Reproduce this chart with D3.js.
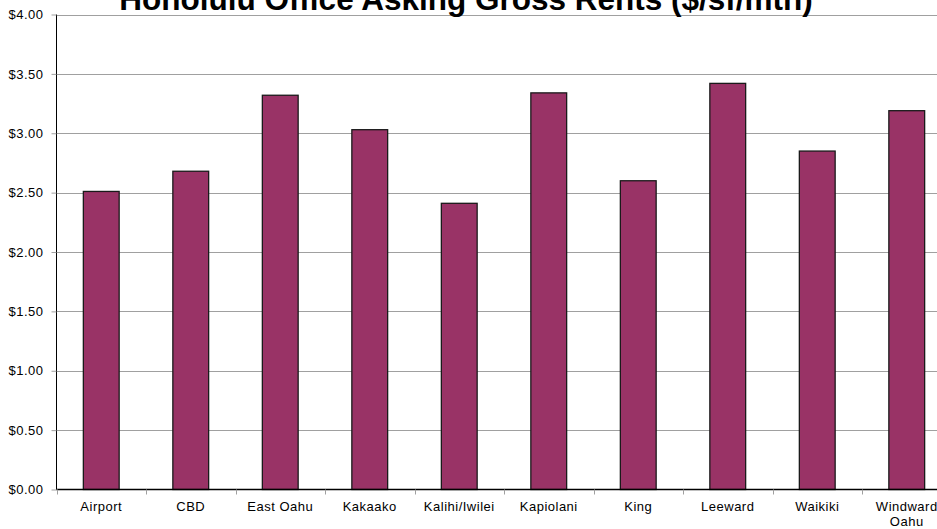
<!DOCTYPE html>
<html lang="en">
<head>
<meta charset="utf-8" />
<title>Honolulu Office Asking Gross Rents</title>
<script src="https://d3js.org/d3.v7.min.js"></script>
<style>
  body { margin: 0; background: #fff; }
  svg { display: block; font-family: "Liberation Sans", Arial, sans-serif; }
</style>
</head>
<body>
<div id="chart"></div>
<script>
var submarkets = ["Airport", "CBD", "East Oahu", "Kakaako", "Kalihi/Iwilei",
                  "Kapiolani", "King", "Leeward", "Waikiki", "Windward Oahu"];
var rents = [2.51, 2.68, 3.32, 3.03, 2.41, 3.34, 2.60, 3.42, 2.85, 3.19];
var yTicks = [0, 0.5, 1, 1.5, 2, 2.5, 3, 3.5, 4];

var width = 937, height = 529;
var plotLeft = 56.5, plotTop = 14.5, plotBottom = 489.5;
var plotRight = plotLeft + 895;   // plot runs past the window edge

var svg = d3.select("#chart").append("svg")
  .attr("width", width)
  .attr("height", height);

var x = d3.scaleBand()
  .domain(submarkets)
  .range([plotLeft, plotRight])
  .padding(0);

var y = d3.scaleLinear()
  .domain([0, 4])
  .range([plotBottom, plotTop]);

// gridlines
svg.append("g")
  .selectAll("line")
  .data(yTicks.filter(function(d) { return d > 0; }))
  .join("line")
  .attr("x1", plotLeft)
  .attr("x2", plotRight)
  .attr("y1", function(d) { return Math.round(y(d)) + 0.5; })
  .attr("y2", function(d) { return Math.round(y(d)) + 0.5; })
  .attr("stroke", "#a0a0a0")
  .attr("stroke-width", 1);

// y axis
var yAxis = d3.axisLeft(y)
  .tickValues(yTicks)
  .tickSize(5)
  .tickPadding(8)
  .tickFormat(function(d) { return "$" + d3.format(".2f")(d); });

var gy = svg.append("g")
  .attr("transform", "translate(" + plotLeft + ",0)")
  .call(yAxis);
gy.select(".domain").attr("stroke", "#000")
  .attr("d", "M0," + plotTop + "V" + plotBottom);
gy.selectAll(".tick line").attr("stroke", "#a0a0a0");
gy.selectAll(".tick text")
  .attr("font-size", 13)
  .attr("letter-spacing", 0.5)
  .attr("font-family", "Liberation Sans, Arial, sans-serif")
  .attr("fill", "#000");

// bars
var barW = x.bandwidth() * 0.4;
svg.append("g")
  .selectAll("rect")
  .data(submarkets)
  .join("rect")
  .attr("x", function(d) { return x(d) + (x.bandwidth() - barW) / 2; })
  .attr("y", function(d, i) { return y(rents[i]); })
  .attr("width", barW)
  .attr("height", function(d, i) { return plotBottom - y(rents[i]); })
  .attr("fill", "#993366")
  .attr("stroke", "#1a1a1a")
  .attr("stroke-width", 1.3);

// x axis
var gx = svg.append("g")
  .attr("transform", "translate(0," + plotBottom + ")");
gx.append("line")
  .attr("x1", plotLeft).attr("x2", plotRight)
  .attr("y1", 0).attr("y2", 0)
  .attr("stroke", "#000")
  .attr("stroke-width", 1.5);
gx.selectAll(".xtick")
  .data(submarkets)
  .join("line")
  .attr("class", "xtick")
  .attr("x1", function(d) { return Math.round(x(d)) + 0.5; })
  .attr("x2", function(d) { return Math.round(x(d)) + 0.5; })
  .attr("y1", 0).attr("y2", 5)
  .attr("stroke", "#a0a0a0");

var labels = gx.selectAll(".xlabel")
  .data(submarkets)
  .join("text")
  .attr("class", "xlabel")
  .attr("text-anchor", "middle")
  .attr("font-size", 13)
  .attr("letter-spacing", 0.5)
  .attr("fill", "#000")
  .attr("transform", function(d) { return "translate(" + (x(d) + x.bandwidth() / 2) + ",0)"; });

labels.each(function(d) {
  var t = d3.select(this);
  var parts = d === "Windward Oahu" ? ["Windward", "Oahu"] : [d];
  parts.forEach(function(p, i) {
    t.append("tspan").attr("x", 0).attr("y", 21.5 + i * 15).text(p);
  });
});

// title (top is cut off in the original)
svg.append("text")
  .attr("x", 466)
  .attr("y", 10)
  .attr("text-anchor", "middle")
  .attr("font-size", 31.5)
  .attr("font-weight", "bold")
  .attr("fill", "#000")
  .text("Honolulu Office Asking Gross Rents ($/sf/mth)");
</script>
</body>
</html>
